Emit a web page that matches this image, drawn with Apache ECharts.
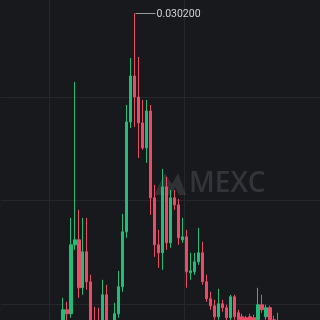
<!DOCTYPE html>
<html><head><meta charset="utf-8">
<script src="https://cdn.jsdelivr.net/npm/echarts@6/dist/echarts.min.js"></script>
<style>html,body{margin:0;padding:0;background:#18191d;}#c{width:320px;height:320px;}</style>
</head><body><div id="c"></div>
<script>
// candle values (price) – open, close, low, high
const openP  = [0.006540,0.007460,0.007153,0.012441,0.012824,0.009146,0.011905,0.009605,0.006387,0.006234,
                0.006234,0.008609,0.006387,0.006387,0.007153,0.009222,0.013437,0.021867,0.025392,0.023783,
                0.021790,0.019874,0.022710,0.016043,0.012441,0.011828,0.016886,0.012594,0.016043,0.015506,
                0.012824,0.013054,0.010295,0.010372,0.011138,0.011828,0.009605,0.008302,0.007766,0.006923,
                0.007920,0.007613,0.006847,0.008456,0.007230,0.006923,0.006847,0.006923,0.006847,0.006693,
                0.007843,0.006923,0.007613,0.006693,0.006540];
const closeP = [0.007460,0.007153,0.012441,0.012824,0.009146,0.011905,0.009605,0.006310,0.005927,0.005621,
                0.008609,0.006234,0.005927,0.007153,0.009222,0.013437,0.021867,0.025392,0.023783,0.021790,
                0.019874,0.022710,0.016043,0.012441,0.011828,0.016886,0.012594,0.016043,0.015506,0.012977,
                0.013054,0.010372,0.010448,0.011138,0.011828,0.009605,0.008302,0.007766,0.006923,0.007920,
                0.007613,0.006847,0.008456,0.006923,0.006693,0.006540,0.006463,0.006540,0.006387,0.007843,
                0.007460,0.007613,0.006693,0.006387,0.006234];
const lowP   = [0.006310,0.006540,0.006847,0.012058,0.008379,0.008609,0.008992,0.005544,0.005544,0.005314,
                0.005927,0.005927,0.005544,0.006080,0.006847,0.008839,0.012977,0.021407,0.021484,0.019108,
                0.019721,0.018725,0.014740,0.011521,0.010678,0.010525,0.012058,0.012211,0.015123,0.012441,
                0.012594,0.009146,0.009759,0.010142,0.010908,0.009376,0.008073,0.007460,0.006693,0.006693,
                0.007306,0.006540,0.006540,0.006693,0.006387,0.006310,0.006234,0.006310,0.006234,0.006540,
                0.007230,0.006693,0.006540,0.006234,0.006080];
const highP  = [0.008379,0.008073,0.014510,0.024932,0.015123,0.014510,0.014510,0.010142,0.007690,0.007613,
                0.009759,0.009376,0.006463,0.007996,0.010448,0.014817,0.023170,0.026771,0.030200,0.026848,
                0.023553,0.023553,0.023170,0.017039,0.013590,0.018265,0.017652,0.016656,0.016656,0.015966,
                0.014510,0.013590,0.011828,0.011828,0.013744,0.012671,0.010142,0.008839,0.008226,0.009069,
                0.008226,0.007843,0.008609,0.008609,0.007460,0.007153,0.007000,0.007153,0.007076,0.009146,
                0.008609,0.007843,0.007766,0.007000,0.007230];
const emptyBefore = 15, emptyAfter = 10;
const yTickStep = 0.00792;

const n = openP.length;
const total = emptyBefore + n + emptyAfter;
const categories = [];
for (let i = 0; i < total; i++) categories.push(String(i + 1));
const kData = [];
for (let i = 0; i < total; i++) {
  const j = i - emptyBefore;
  if (j >= 0 && j < n) kData.push([openP[j], closeP[j], lowP[j], highP[j]]);
  else kData.push('-');
}
let maxIdx = 0;
for (let j = 1; j < n; j++) if (highP[j] > highP[maxIdx]) maxIdx = j;

const chart = echarts.init(document.getElementById('c'), null, {renderer: 'canvas'});
const UP = '#22bd78', DOWN = '#ec4b66';
chart.setOption({
  backgroundColor: '#18191d',
  animation: false,
  grid: {left: 1, right: 0, top: -6, bottom: -87, outerBoundsMode: 'none', containLabel: false},
  xAxis: {
    type: 'category', data: categories, boundaryGap: true,
    axisLine: {show: false}, axisTick: {show: false}, axisLabel: {show: false},
    splitLine: {show: true, interval: function (i) { return i === 12 || i === 46; },
      lineStyle: {color: '#25272b', width: 1}}
  },
  yAxis: {
    type: 'value', min: 0, max: yTickStep * 4, interval: yTickStep, position: 'right',
    axisLine: {show: false}, axisTick: {show: false}, axisLabel: {show: false},
    splitLine: {show: true, lineStyle: {color: '#25272b', width: 1}}
  },
  series: [{
    type: 'candlestick', data: kData, barWidth: 3,
    itemStyle: {color: UP, color0: DOWN, borderColor: UP, borderColor0: DOWN, borderWidth: 1}
  }]
});

const p = chart.convertToPixel({gridIndex: 0}, [emptyBefore + maxIdx, highP[maxIdx]]);
const mx = Math.round(p[0]) + 0.5, my = Math.round(p[1]) + 0.5;
chart.setOption({
  graphic: [
    {type: 'line', shape: {x1: mx, y1: my, x2: mx + 20, y2: my}, style: {stroke: '#9a9a9a', lineWidth: 1}, z: 10},
    {type: 'text', x: mx + 21, y: my + 0.5, style: {text: highP[maxIdx].toFixed(6), fill: '#d2d2d2',
      font: '10.5px Roboto, "Noto Sans", sans-serif', verticalAlign: 'middle'}, z: 10},
    {type: 'text', x: 189, y: 184, style: {text: 'MEXC', fill: 'rgba(110,112,118,0.32)',
      font: '600 28px "Open Sans", "Noto Sans", sans-serif', verticalAlign: 'middle'}, z: 0},
    {type: 'polygon', shape: {points: [[154,195],[165,173],[172,184],[178,173],[186,195],[179,195],[175,187],[171,195],[164,195],[166,187],[161,195]]},
      style: {fill: 'rgba(110,112,118,0.28)'}, z: 0}
  ]
});
</script>
</body></html>
